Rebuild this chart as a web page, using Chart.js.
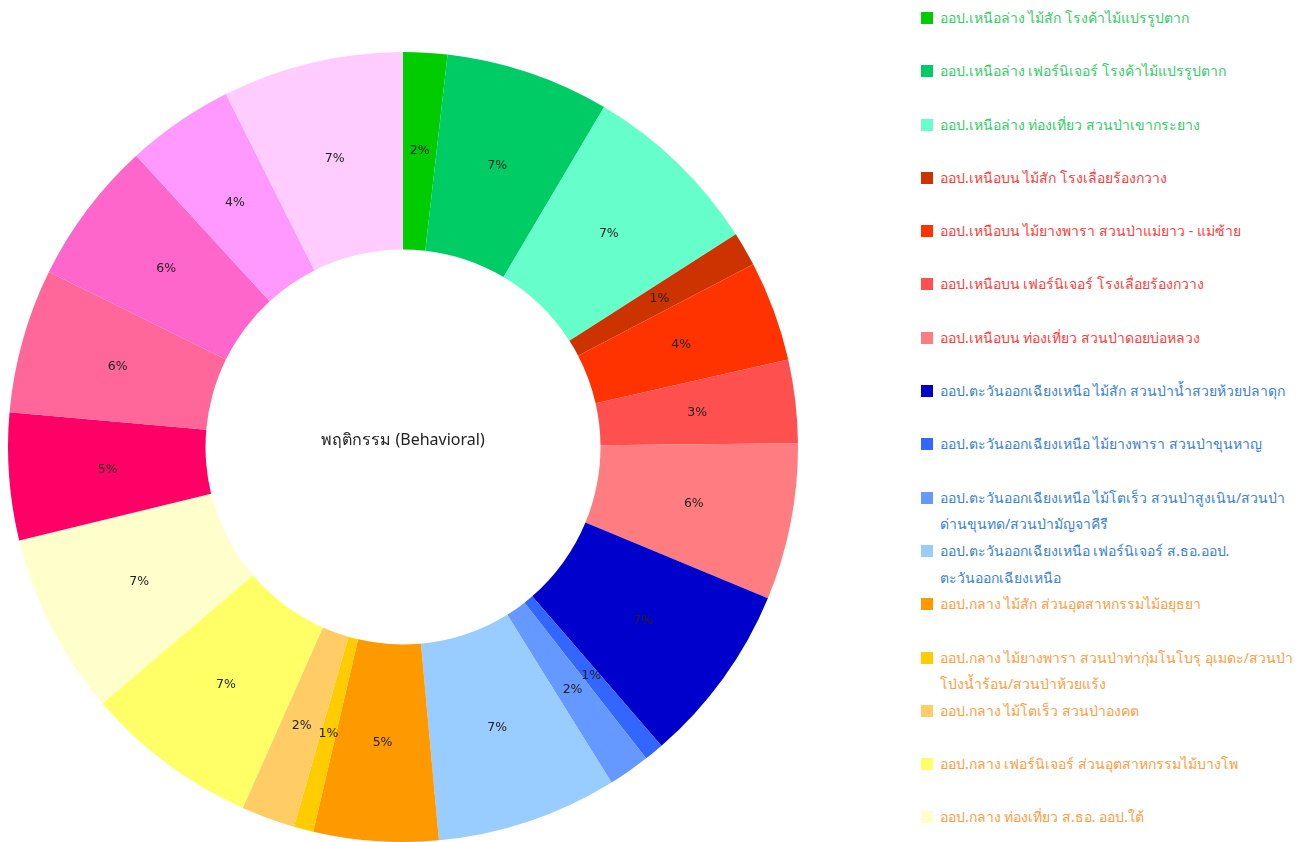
<!DOCTYPE html>
<html>
<head>
<meta charset="utf-8">
<script src="https://cdn.jsdelivr.net/npm/chart.js@4.4.0/dist/chart.umd.min.js"></script>
<style>
  html, body { margin:0; padding:0; background:#fff; width:1296px; height:842px; overflow:hidden; }
  #chartBox { position:absolute; left:8px; top:52px; width:790px; height:790px; }
  #legend { position:absolute; left:921px; top:0px; width:375px; height:842px; overflow:hidden;
            font-family: "Noto Sans", "Tahoma", "DejaVu Sans", sans-serif; font-size:14px; }
  .item { position:relative; height:53.3px; box-sizing:border-box; padding-top:5px; }
  .box { position:absolute; left:0; top:12px; width:12px; height:12px; }
  .txt { margin-left:19px; line-height:26.6px; white-space:nowrap; }
</style>
</head>
<body>
<div id="chartBox"><canvas id="c"></canvas></div>
<div id="legend"></div>
<script>
const centerTitle = "พฤติกรรม (Behavioral)";

// multi-line labels are given as arrays of lines (Chart.js convention)
const categories = [
  "ออป.เหนือล่าง ไม้สัก โรงค้าไม้แปรรูปตาก",
  "ออป.เหนือล่าง เฟอร์นิเจอร์ โรงค้าไม้แปรรูปตาก",
  "ออป.เหนือล่าง ท่องเที่ยว สวนป่าเขากระยาง",
  "ออป.เหนือบน ไม้สัก โรงเลื่อยร้องกวาง",
  "ออป.เหนือบน ไม้ยางพารา สวนป่าแม่ยาว - แม่ซ้าย",
  "ออป.เหนือบน เฟอร์นิเจอร์ โรงเลื่อยร้องกวาง",
  "ออป.เหนือบน ท่องเที่ยว สวนป่าดอยบ่อหลวง",
  "ออป.ตะวันออกเฉียงเหนือ ไม้สัก สวนป่าน้ำสวยห้วยปลาดุก",
  "ออป.ตะวันออกเฉียงเหนือ ไม้ยางพารา สวนป่าขุนหาญ",
  ["ออป.ตะวันออกเฉียงเหนือ ไม้โตเร็ว สวนป่าสูงเนิน/สวนป่า", "ด่านขุนทด/สวนป่ามัญจาคีรี"],
  ["ออป.ตะวันออกเฉียงเหนือ เฟอร์นิเจอร์ ส.ธอ.ออป.", "ตะวันออกเฉียงเหนือ"],
  "ออป.กลาง ไม้สัก ส่วนอุตสาหกรรมไม้อยุธยา",
  ["ออป.กลาง ไม้ยางพารา สวนป่าท่ากุ่มโนโบรุ อุเมดะ/สวนป่า", "โป่งน้ำร้อน/สวนป่าห้วยแร้ง"],
  "ออป.กลาง ไม้โตเร็ว สวนป่าองคต",
  "ออป.กลาง เฟอร์นิเจอร์ ส่วนอุตสาหกรรมไม้บางโพ",
  "ออป.กลาง ท่องเที่ยว ส.ธอ. ออป.ใต้",
  "ออป.ใต้ ไม้ยางพารา",
  "ออป.ใต้ ไม้โตเร็ว",
  "ออป.ใต้ เฟอร์นิเจอร์",
  "ออป.ใต้ ท่องเที่ยว",
  "ออป.ใต้ อื่น ๆ"
];

const values = [1.8, 6.7, 7.45, 1.4, 4.1, 3.4, 6.4, 7.4, 0.8, 1.7, 7.4,
                5.1, 0.8, 2.2, 7.1, 7.45, 5.2, 5.9, 5.9, 4.4, 7.4];

const sliceColors = ["#00CC00","#00CC66","#66FFCC","#CC3300","#FF3300","#FF5050","#FF7C80",
                     "#0000CC","#3366FF","#6699FF","#99CCFF","#FF9900","#FFCC00","#FFCC66",
                     "#FFFF66","#FFFFCC","#FF0066","#FF6699","#FF66CC","#FF99FF","#FFCCFF"];

const groupIndex = [0,0,0,1,1,1,1,2,2,2,2,3,3,3,3,3,4,4,4,4,4];
const groupTextColors = ["#33CC66","#FF3B3B","#3A7FD0","#FF9C40","#FF3399"];

// HTML legend built from the arrays
const legendEl = document.getElementById('legend');
categories.forEach((lab, i) => {
  const it = document.createElement('div');
  it.className = 'item';
  const b = document.createElement('div');
  b.className = 'box';
  b.style.background = sliceColors[i];
  const t = document.createElement('div');
  t.className = 'txt';
  t.style.color = groupTextColors[groupIndex[i]];
  const lines = Array.isArray(lab) ? lab : [lab];
  lines.forEach((ln, k) => {
    if (k) t.appendChild(document.createElement('br'));
    t.appendChild(document.createTextNode(ln));
  });
  it.appendChild(b); it.appendChild(t);
  legendEl.appendChild(it);
});

const labelPlugin = {
  id: 'pctLabels',
  afterDatasetsDraw(chart) {
    const ctx = chart.ctx;
    const meta = chart.getDatasetMeta(0);
    const data = chart.data.datasets[0].data;
    const total = data.reduce((a, b) => a + b, 0);
    ctx.save();
    ctx.font = '12.5px "DejaVu Sans", "Noto Sans", sans-serif';
    ctx.fillStyle = '#222';
    ctx.textAlign = 'center';
    ctx.textBaseline = 'middle';
    meta.data.forEach((arc, i) => {
      const p = arc.tooltipPosition();
      ctx.fillText(Math.round(data[i] / total * 100) + '%', p.x, p.y);
    });
    const a = chart.chartArea;
    ctx.font = '16px "Noto Sans", "Tahoma", "DejaVu Sans", sans-serif';
    ctx.fillStyle = '#222';
    ctx.fillText(centerTitle, (a.left + a.right) / 2, (a.top + a.bottom) / 2 - 7);
    ctx.restore();
  }
};

new Chart(document.getElementById('c'), {
  type: 'doughnut',
  data: {
    labels: categories,
    datasets: [{
      data: values,
      backgroundColor: sliceColors,
      borderWidth: 0,
      hoverOffset: 0
    }]
  },
  options: {
    responsive: true,
    maintainAspectRatio: false,
    animation: false,
    cutout: '50%',
    layout: { padding: 0 },
    plugins: {
      legend: { display: false },
      tooltip: { enabled: false }
    }
  },
  plugins: [labelPlugin]
});
</script>
</body>
</html>
